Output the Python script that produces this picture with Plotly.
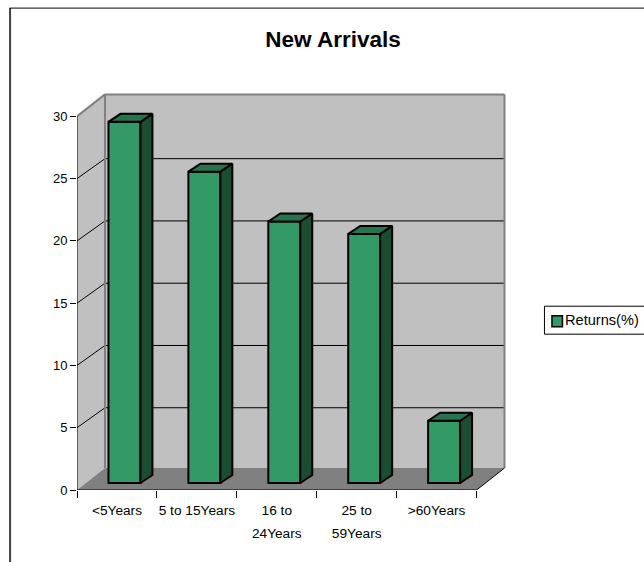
import plotly.graph_objects as go

LABEL_PX = 13.7
GAP_FONT = 17.7


def lab(*lines):
    return "<br>".join(f"<span style='font-size:{LABEL_PX}px'>{t}</span>" for t in lines)


categories = [lab("&lt;5Years"), lab("5 to 15Years"), lab("16 to", "24Years"), lab("25 to", "59Years"), lab("&gt;60Years")]
values = [29, 25, 21, 20, 5]
y_ticks = [0, 5, 10, 15, 20, 25, 30]
series_name = "Returns(%)"
title_text = "New Arrivals"

W, H = 644, 562
X0_PX, Y0_PX = 76.5, 490.5      # pixel of x=0, y=0
PX_X, PX_Y = 80.0, 12.47        # px per unit
RIGHT_PX, TOP_PX = 512.0, 88.0  # plot area extent

WALL_DX, WALL_DY = 28 / PX_X, 22 / PX_Y
GRID_DY = 20 / PX_Y
BAR_DX, BAR_DY = 12 / PX_X, 8 / PX_Y
BAR_BASE = 0.56
BAR_SHIFT = 0.094
BAR_W = 0.4

GREEN, GREEN_TOP, GREEN_SIDE = "#339966", "#26734d", "#1a4d33"
WALL, FLOOR = "#c0c0c0", "#808080"

n = len(categories)
ymax = y_ticks[-1]


def path(pts):
    return "M" + " L".join(f"{x},{y}" for x, y in pts) + " Z"


def poly(pts, color, line=None, lw=0):
    return dict(type="path", xref="x", yref="y", layer="below", path=path(pts),
                fillcolor=color, line=dict(color=line or color, width=lw))


def seg(x0, y0, x1, y1, color="black", lw=1):
    return dict(type="line", xref="x", yref="y", layer="below", x0=x0, y0=y0, x1=x1, y1=y1,
                line=dict(color=color, width=lw))


shapes = [
    poly([(WALL_DX, WALL_DY), (n + WALL_DX, WALL_DY), (n + WALL_DX, ymax + WALL_DY), (WALL_DX, ymax + WALL_DY)], WALL),
    poly([(0, 0), (WALL_DX, WALL_DY), (WALL_DX, ymax + WALL_DY), (0, ymax)], WALL),
    poly([(0, 0), (n, 0), (n + WALL_DX, WALL_DY), (WALL_DX, WALL_DY)], FLOOR),
]
for t in y_ticks[1:-1]:
    shapes.append(seg(0, t, WALL_DX, t + GRID_DY))
    shapes.append(seg(WALL_DX, t + GRID_DY, n + WALL_DX, t + GRID_DY))
shapes += [
    seg(WALL_DX, WALL_DY, WALL_DX, ymax + WALL_DY, FLOOR, 2),
    seg(WALL_DX, ymax + WALL_DY, n + WALL_DX, ymax + WALL_DY, FLOOR, 2),
    seg(n + WALL_DX, WALL_DY, n + WALL_DX, ymax + WALL_DY, FLOOR, 2),
    seg(0, ymax, WALL_DX, ymax + WALL_DY, FLOOR, 2),
    seg(n, 0, n + WALL_DX, WALL_DY),
]

plot_w = RIGHT_PX - X0_PX
plot_h = Y0_PX - TOP_PX


def paper_x(px):
    return (px - X0_PX) / plot_w


def paper_y(py):
    return (Y0_PX - py) / plot_h


def box(x0, y0, x1, y1, fill, line, lw):
    return dict(type="rect", xref="paper", yref="paper", x0=paper_x(x0), x1=paper_x(x1), y0=paper_y(y0), y1=paper_y(y1),
                fillcolor=fill, line=dict(color=line, width=lw))


# chart frame and legend key
shapes += [
    dict(type="line", xref="paper", yref="paper", x0=paper_x(9.5), x1=paper_x(9.5), y0=paper_y(8), y1=paper_y(H + 2),
         line=dict(color="#404040", width=2)),
    dict(type="line", xref="paper", yref="paper", x0=paper_x(9), x1=paper_x(W + 2), y0=paper_y(8), y1=paper_y(8),
         line=dict(color="black", width=1)),
    box(544.5, 306.5, W + 3, 334.5, "white", "black", 1),
    box(552, 316, 562.5, 327, GREEN, "black", 1.5),
]

fig = go.Figure()
centers = [i + 0.5 for i in range(n)]
fig.add_trace(go.Bar(
    x=[c + BAR_SHIFT for c in centers], y=values, base=BAR_BASE, width=BAR_W, name=series_name,
    marker=dict(color=GREEN, line=dict(color="black", width=2)), hoverinfo="skip", showlegend=False))

for c, v in zip(centers, values):
    l = c + BAR_SHIFT - BAR_W / 2
    r = c + BAR_SHIFT + BAR_W / 2
    b = BAR_BASE
    t = BAR_BASE + v
    fig.add_trace(go.Scatter(
        x=[r, r + BAR_DX, r + BAR_DX, r, r], y=[b, b + BAR_DY, t + BAR_DY, t, b],
        mode="lines", fill="toself", fillcolor=GREEN_SIDE, line=dict(color="black", width=2),
        hoverinfo="skip", showlegend=False))
    fig.add_trace(go.Scatter(
        x=[l, r, r + BAR_DX, l + BAR_DX, l], y=[t, t, t + BAR_DY, t + BAR_DY, t],
        mode="lines", fill="toself", fillcolor=GREEN_TOP, line=dict(color="black", width=2),
        hoverinfo="skip", showlegend=False))

# axis lines, limited to the front plane
fig.add_trace(go.Scatter(x=[0, 0], y=[0, ymax], mode="lines", line=dict(color="black", width=1),
                         cliponaxis=False, hoverinfo="skip", showlegend=False))
fig.add_trace(go.Scatter(x=[0, n], y=[0, 0], xaxis="x2", mode="lines", line=dict(color="black", width=1),
                         cliponaxis=False, hoverinfo="skip", showlegend=False))

x_range = [0, plot_w / PX_X]
y_range = [0, plot_h / PX_Y]
FONT = "Liberation Sans, Arial, sans-serif"

fig.update_layout(
    width=W, height=H,
    margin=dict(l=X0_PX, r=W - RIGHT_PX, t=TOP_PX, b=H - Y0_PX, pad=0, autoexpand=False),
    paper_bgcolor="white", plot_bgcolor="rgba(0,0,0,0)",
    font=dict(family=FONT, size=13, color="black"),
    title=dict(text=f"<b>{title_text}</b>", x=333 / W, xanchor="center", y=1 - 39 / H, yanchor="middle",
               font=dict(family=FONT, size=22.5, color="black")),
    xaxis=dict(range=x_range, tickmode="array", tickvals=centers,
               ticktext=categories, ticks="", showgrid=False, zeroline=False, showline=False,
               ticklabelstandoff=6, tickangle=0, tickfont=dict(family=FONT, size=GAP_FONT, color="black")),
    xaxis2=dict(range=x_range, overlaying="x", side="bottom", anchor="y", tickmode="array",
                tickvals=list(range(n + 1)), ticktext=[""] * (n + 1), ticks="outside", ticklen=7, tickcolor="black",
                tickwidth=1, showgrid=False, zeroline=False, showline=False),
    yaxis=dict(range=y_range, tickmode="array", tickvals=y_ticks, ticks="outside", ticklen=6, tickcolor="black",
               tickwidth=1, showgrid=False, zeroline=False, showline=False),
    annotations=[dict(xref="paper", yref="paper", x=paper_x(565.5), y=paper_y(320), xanchor="left", yanchor="middle",
                      text=series_name, showarrow=False, font=dict(family=FONT, size=14.6, color="black"),
                      borderpad=0, borderwidth=0)],
    shapes=shapes,
    showlegend=False,
)
fig.write_html("out.html", config={"displayModeBar": False},
               post_script="document.body.style.margin='0';document.documentElement.style.overflow='hidden';")
